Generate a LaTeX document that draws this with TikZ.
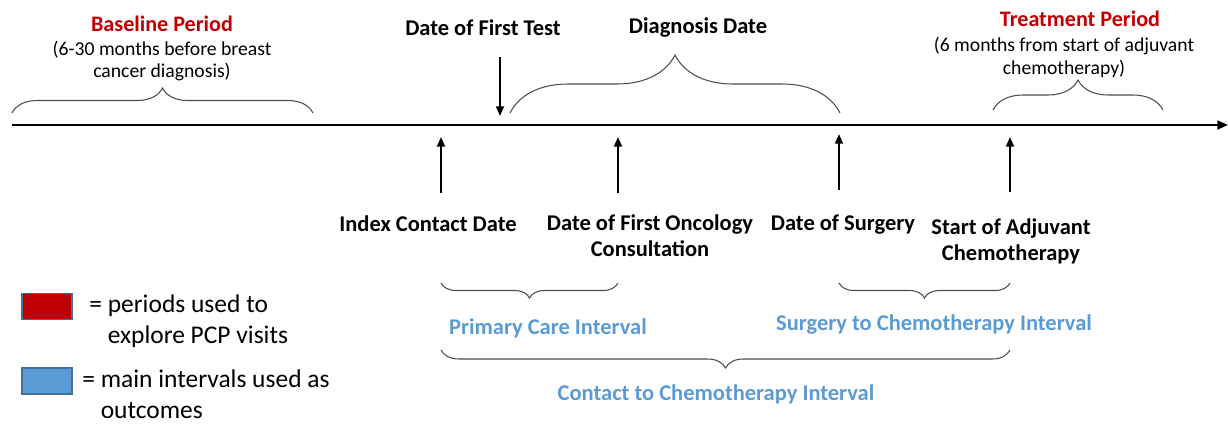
\documentclass[tikz,border=0pt]{standalone}
\usepackage{fontspec}
\setmainfont{Carlito}
\usetikzlibrary{arrows.meta, positioning, decorations.pathreplacing}
\definecolor{periodred}{HTML}{C00000}
\definecolor{intblue}{HTML}{5B9BD5}
\definecolor{boxedge}{HTML}{41719C}
\definecolor{bracegray}{HTML}{4D4D4D}

\begin{document}
\begin{tikzpicture}[x=0.02cm, y=-0.02cm,
    every node/.style={inner sep=0pt},
    evt/.style={font=\fontsize{12.8}{14.7}\selectfont\bfseries, align=center},
    period/.style={font=\fontsize{12.6}{14}\selectfont\bfseries, text=periodred},
    note/.style={font=\fontsize{11.2}{13}\selectfont, align=center},
    interval/.style={font=\fontsize{12.8}{14}\selectfont\bfseries, text=intblue},
    keytext/.style={font=\fontsize{14.5}{17.5}\selectfont, align=left, anchor=west},
    keybox/.style={draw=boxedge, line width=0.9pt, minimum width=1cm, minimum height=0.52cm},
    brc/.style={draw=bracegray, line width=0.6pt, decorate, decoration={brace, amplitude=#1}},
    evtarrow/.style={line width=1.2pt, -{Triangle[length=5.5pt, width=4.5pt]}}]
  \useasboundingbox (0,0) rectangle (1228,423);

  % time axis
  \coordinate (tstart) at (12,125);
  \coordinate (tend) at (1228,125);
  \draw[line width=1.3pt, -{Triangle[length=6pt, width=5pt]}] (tstart) -- (tend);

  % periods above the axis
  \node[period] (base) at (162,24) {Baseline Period};
  \node[note] (basenote) at (162,61) {(6-30 months before breast\\cancer diagnosis)};
  \draw[brc=0.5cm] (12,113) -- (313,113);

  \node[period] (treat) at (1080,19) {Treatment Period};
  \node[note] (treatnote) at (1064,57) {(6 months from start of adjuvant\\chemotherapy)};
  \draw[brc=0.6cm] (993,110) -- (1163,110);

  \node[evt] (test) at (483,28) {Date of First Test};
  \coordinate (testtop) at (500,57);
  \coordinate (testax) at (500,116);
  \draw[evtarrow] (testtop) -- (testax);

  \node[evt] (diag) at (698,28) {Diagnosis Date};
  \draw[brc=1.16cm] (510,113) -- (840,113);

  % events below the axis
  \node[evt] (idx) at (428,224) {Index Contact Date};
  \node[evt] (onc) at (650,236) {Date of First Oncology\\Consultation};
  \node[evt] (surg) at (843,225) {Date of Surgery};
  \node[evt] (chemo) at (1011,241) {Start of Adjuvant\\Chemotherapy};

  \coordinate (idxfoot) at (441,193);   \coordinate (idxax) at (441,137);
  \coordinate (oncfoot) at (618,193);   \coordinate (oncax) at (618,137);
  \coordinate (surgfoot) at (839,190);  \coordinate (surgax) at (839,134);
  \coordinate (chemofoot) at (1010,192);\coordinate (chemoax) at (1010,137);
  \foreach \e in {idx, onc, surg, chemo}
    \draw[evtarrow] (\e foot) -- (\e ax);

  % intervals
  \draw[brc=0.3cm] (618,283) -- (441,283);
  \node[interval] (pci) at (548,328) {Primary Care Interval};
  \draw[brc=0.3cm] (1010,283) -- (839,283);
  \node[interval] (sci) at (934,325) {Surgery to Chemotherapy Interval};
  \draw[brc=0.36cm] (1010,350) -- (441,350);
  \node[interval] (cci) at (716,394) {Contact to Chemotherapy Interval};

  % key
  \node[keybox, fill=periodred] (keyred) at (47,306.5) {};
  \node[keytext] (keyredtxt) at (89,321) {= periods used to\\\phantom{= }explore PCP visits};
  \node[keybox, fill=intblue] (keyblue) at (47,381) {};
  \node[keytext] (keybluetxt) at (82,394) {= main intervals used as\\\phantom{= }outcomes};
\end{tikzpicture}
\end{document}
